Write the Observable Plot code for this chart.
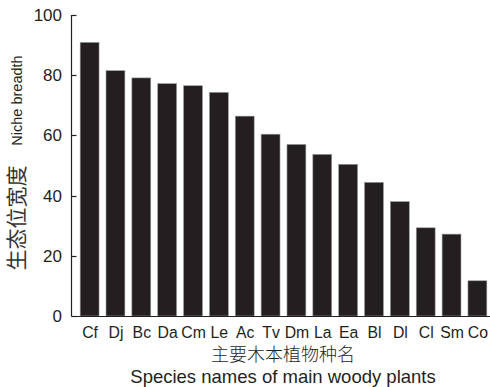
<!DOCTYPE html>
<html>
<head>
<meta charset="utf-8">
<script src="https://cdn.jsdelivr.net/npm/d3@7"></script>
<script src="https://cdn.jsdelivr.net/npm/@observablehq/plot@0.6"></script>
<style>
  html, body { margin: 0; padding: 0; background: #fff; }
</style>
</head>
<body>
<div id="chart"></div>
<script>
const species = ["Cf","Dj","Bc","Da","Cm","Le","Ac","Tv","Dm","La","Ea","Bl","Dl","Cl","Sm","Co"];
const breadth = [90.9, 81.5, 79.1, 77.2, 76.5, 74.3, 66.4, 60.4, 57.0, 53.7, 50.4, 44.4, 38.0, 29.3, 27.2, 11.7];
const yTicks = [0, 20, 40, 60, 80, 100];
const yTitleZh = "生态位宽度";
const yTitleEn = "Niche breadth";
const xTitleZh = "主要木本植物种名";
const xTitleEn = "Species names of main woody plants";

const data = species.map((s, i) => ({name: s, value: breadth[i]}));
const ink = "#231f20";
const latin = "'Liberation Sans', Arial, Helvetica, sans-serif";
const cjk = "'Noto Sans CJK SC', sans-serif";
const marginLeft = 72;

const chart = Plot.plot({
  width: 490,
  height: 387,
  marginLeft,
  marginRight: 0,
  marginTop: 15,
  marginBottom: 71,
  style: {fontFamily: latin, fontSize: "17px", color: ink, background: "#fff"},
  x: {domain: species, range: [75, 492], paddingInner: 0.27, paddingOuter: 0.2, round: false, label: null},
  y: {domain: [0, 100], label: null},
  marks: [
    Plot.barY(data, {x: "name", y: "value", fill: ink, stroke: "#9a9a9a", strokeWidth: 0.6}),
    Plot.ruleY([0], {stroke: ink, strokeWidth: 1.2}),
    Plot.axisY({ticks: yTicks, tickSize: 0, tickPadding: 10.5, label: null, fontSize: 17}),
    Plot.axisX({tickSize: 0, tickPadding: 10, label: null, fontSize: 15.8}),
    Plot.text([yTitleEn], {frameAnchor: "left", dx: -55.5, dy: -65.5, rotate: -90, fontSize: 14.5, fontFamily: latin, fill: ink, textAnchor: "middle", lineAnchor: "middle"}),
    Plot.text([yTitleZh], {frameAnchor: "left", dx: -55.5, dy: 52, rotate: -90, fontSize: 21, fontFamily: cjk, fill: "#333", textAnchor: "middle", lineAnchor: "middle"}),
    Plot.text([xTitleZh], {frameAnchor: "bottom", dy: 38.5, dx: 1.5, fontSize: 18, fontFamily: cjk, fontWeight: 300, fill: ink, lineAnchor: "middle"}),
    Plot.text([xTitleEn], {frameAnchor: "bottom", dy: 61, dx: 1.5, fontSize: 18.5, fontFamily: latin, fill: ink, lineAnchor: "middle"})
  ]
});

// y-axis line and inward ticks, positioned through the chart's own y scale
const yScale = chart.scale("y");
const svg = d3.select(chart);
const g = svg.append("g").attr("stroke", ink).attr("stroke-width", 1.2).attr("fill", "none");
const ax = marginLeft - 0.5;
g.append("line")
  .attr("x1", ax).attr("x2", ax)
  .attr("y1", yScale.apply(0) + 0.5).attr("y2", yScale.apply(100));
g.selectAll("line.tick").data(yTicks).join("line")
  .attr("class", "tick")
  .attr("x1", ax).attr("x2", ax + 5)
  .attr("y1", d => Math.round(yScale.apply(d)) + 0.5)
  .attr("y2", d => Math.round(yScale.apply(d)) + 0.5);

document.getElementById("chart").appendChild(chart);
</script>
</body>
</html>
